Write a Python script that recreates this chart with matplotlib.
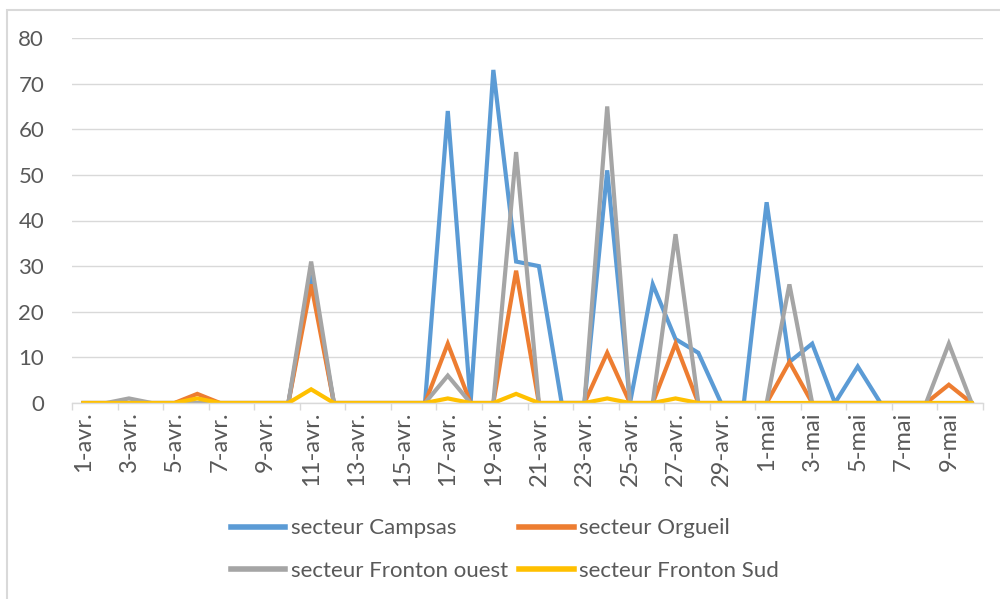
import matplotlib
matplotlib.use("Agg")
import matplotlib.pyplot as plt
from matplotlib.patches import Rectangle
from matplotlib.ticker import FixedLocator

dates = ["1-avr.", "2-avr.", "3-avr.", "4-avr.", "5-avr.", "6-avr.", "7-avr.", "8-avr.", "9-avr.", "10-avr.",
         "11-avr.", "12-avr.", "13-avr.", "14-avr.", "15-avr.", "16-avr.", "17-avr.", "18-avr.", "19-avr.", "20-avr.",
         "21-avr.", "22-avr.", "23-avr.", "24-avr.", "25-avr.", "26-avr.", "27-avr.", "28-avr.", "29-avr.", "30-avr.",
         "1-mai", "2-mai", "3-mai", "4-mai", "5-mai", "6-mai", "7-mai", "8-mai", "9-mai", "10-mai"]

campsas = [0, 0, 0, 0, 0, 0, 0, 0, 0, 0,
           28, 0, 0, 0, 0, 0, 64, 0, 73, 31,
           30, 0, 0, 51, 0, 26, 14, 11, 0, 0,
           44, 9, 13, 0, 8, 0, 0, 0, 0, 0]
orgueil = [0, 0, 0, 0, 0, 2, 0, 0, 0, 0,
           26, 0, 0, 0, 0, 0, 13, 0, 0, 29,
           0, 0, 0, 11, 0, 0, 13, 0, 0, 0,
           0, 9, 0, 0, 0, 0, 0, 0, 4, 0]
fronton_ouest = [0, 0, 1, 0, 0, 0, 0, 0, 0, 0,
                 31, 0, 0, 0, 0, 0, 6, 0, 0, 55,
                 0, 0, 0, 65, 0, 0, 37, 0, 0, 0,
                 0, 26, 0, 0, 0, 0, 0, 0, 13, 0]
fronton_sud = [0, 0, 0, 0, 0, 1, 0, 0, 0, 0,
               3, 0, 0, 0, 0, 0, 1, 0, 0, 2,
               0, 0, 0, 1, 0, 0, 1, 0, 0, 0,
               0, 0, 0, 0, 0, 0, 0, 0, 0, 0]

series_names = ["secteur Campsas", "secteur Orgueil", "secteur Fronton ouest", "secteur Fronton Sud"]
colors = ["#5B9BD5", "#ED7D31", "#A5A5A5", "#FFC000"]
yticks = [0, 10, 20, 30, 40, 50, 60, 70, 80]

plt.rcParams['font.family'] = ['Lato', 'DejaVu Sans']
txt = "#595959"

fig = plt.figure(figsize=(10, 5.99), dpi=100)
ax = fig.add_axes([0.072, 1 - 403 / 599, 0.911, (403 - 38) / 599])

x = list(range(len(dates)))
lines = []
for vals, name, c in zip([campsas, orgueil, fronton_ouest, fronton_sud], series_names, colors):
    ln, = ax.plot(x, vals, color=c, lw=3.0, label=name, solid_joinstyle='miter')
    lines.append(ln)

ax.set_xlim(-0.5, len(dates) - 0.5)
ax.set_ylim(0, 80)
ax.set_yticks(yticks)
ax.yaxis.grid(True, color="#d9d9d9", lw=1.0)
ax.set_axisbelow(True)
for s in ["top", "right", "left"]:
    ax.spines[s].set_visible(False)
ax.spines["bottom"].set_color("#d9d9d9")
ax.spines["bottom"].set_linewidth(1.0)

ax.tick_params(axis="y", length=0, pad=20, labelsize=16, labelcolor=txt)
ax.set_xticks(x[::2])
ax.set_xticklabels(dates[::2], rotation=90, fontsize=17, color=txt, va="top", ha="center")
ax.tick_params(axis="x", which="major", length=0, pad=6)
ax.xaxis.set_minor_locator(FixedLocator([i - 0.5 for i in range(0, len(dates) + 1, 2)]))
ax.tick_params(axis="x", which="minor", length=5, color="#d9d9d9", width=1.0)

order = [0, 2, 1, 3]
leg = fig.legend([lines[i] for i in order], [series_names[i] for i in order],
                 ncol=2, loc="center", bbox_to_anchor=(0.505, 1 - 549.5 / 599),
                 frameon=False, fontsize=16, handlelength=2.45, handletextpad=0.25,
                 columnspacing=0.5, labelspacing=1.0, borderpad=0.2)
for t in leg.get_texts():
    t.set_color(txt)
for h in leg.get_lines():
    h.set_linewidth(4.0)

fig.patches.append(Rectangle((7 / 1000, -0.05), 1.1, (599 - 10) / 599 + 0.05,
                             transform=fig.transFigure, fill=False,
                             edgecolor="#d9d9d9", lw=1.5))

fig.savefig("out.png", dpi=100, facecolor="white")
